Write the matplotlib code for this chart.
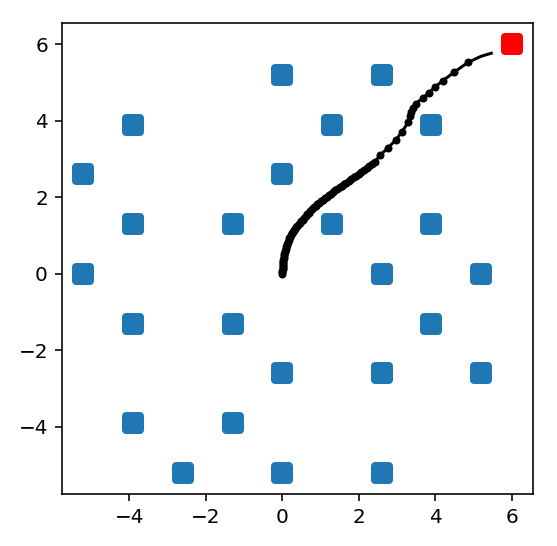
import matplotlib
matplotlib.use("Agg")
import matplotlib.pyplot as plt

# obstacles on the 1.3 grid
obs_x = [0.0, 2.6, -3.9, 1.3, 3.9, -5.2, 0.0, -3.9, -1.3, 1.3, 3.9, -5.2, 2.6,
         5.2, -3.9, -1.3, 3.9, 0.0, 2.6, 5.2, -3.9, -1.3, -2.6, 0.0, 2.6]
obs_y = [5.2, 5.2, 3.9, 3.9, 3.9, 2.6, 2.6, 1.3, 1.3, 1.3, 1.3, 0.0, 0.0,
         0.0, -1.3, -1.3, -1.3, -2.6, -2.6, -2.6, -3.9, -3.9, -5.2, -5.2, -5.2]

goal_x = [6.0]
goal_y = [6.0]

# robot path
path_x = [0.00, 0.00, 0.00, 0.01, 0.01, 0.01, 0.02, 0.02, 0.03, 0.03,
          0.04, 0.05, 0.06, 0.07, 0.08, 0.09, 0.10, 0.12, 0.13, 0.15,
          0.17, 0.19, 0.21, 0.23, 0.25, 0.28, 0.31, 0.34, 0.37, 0.40,
          0.43, 0.47, 0.50, 0.54, 0.58, 0.62, 0.66, 0.70, 0.74, 0.79,
          0.83, 0.88, 0.92, 0.97, 1.02, 1.07, 1.12, 1.17, 1.22, 1.28,
          1.33, 1.39, 1.44, 1.50, 1.56, 1.62, 1.68, 1.74, 1.80, 1.87,
          1.93, 2.00, 2.07, 2.14, 2.21, 2.28, 2.35, 2.42, 2.57, 2.77,
          2.97, 3.14, 3.30, 3.34, 3.38, 3.41, 3.49, 3.68, 3.83, 4.00,
          4.20, 4.49, 4.86, 5.20, 5.47]
path_y = [0.00, 0.04, 0.08, 0.12, 0.16, 0.20, 0.24, 0.28, 0.32, 0.36,
          0.41, 0.46, 0.51, 0.56, 0.61, 0.65, 0.70, 0.75, 0.79, 0.84,
          0.89, 0.93, 0.97, 1.01, 1.06, 1.10, 1.14, 1.18, 1.22, 1.26,
          1.30, 1.34, 1.38, 1.42, 1.47, 1.52, 1.56, 1.60, 1.65, 1.70,
          1.74, 1.78, 1.82, 1.86, 1.90, 1.94, 1.98, 2.02, 2.06, 2.10,
          2.14, 2.18, 2.22, 2.26, 2.30, 2.34, 2.38, 2.43, 2.47, 2.52,
          2.57, 2.62, 2.67, 2.72, 2.77, 2.82, 2.88, 2.93, 3.11, 3.30,
          3.50, 3.72, 3.98, 4.12, 4.24, 4.34, 4.45, 4.60, 4.73, 4.89,
          5.05, 5.27, 5.53, 5.69, 5.77]

fig = plt.figure(figsize=(557 / 144, 546 / 144), dpi=144)
ax = fig.add_axes([0.1113, 0.0952, 0.8456, 0.8626])

ax.scatter(obs_x, obs_y, s=50, marker="s", color="#1f77b4", linewidths=4)
ax.scatter(goal_x, goal_y, s=50, marker="s", color="red", linewidths=4)
ax.plot(path_x, path_y, "k.-", markevery=slice(0, -2))

plt.savefig("out.png", dpi=144)
